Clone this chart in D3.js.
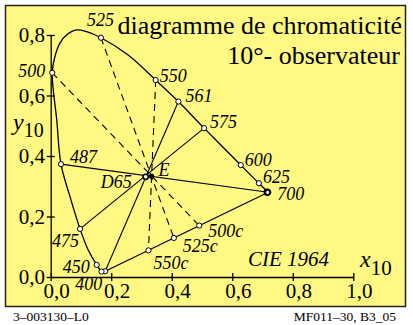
<!DOCTYPE html>
<html>
<head>
<meta charset="utf-8">
<script src="https://cdn.jsdelivr.net/npm/d3@7"></script>
<style>
  body { margin: 0; background: #fff; }
  svg text { font-family: "Liberation Serif", "Times New Roman", serif; fill: #000; }
</style>
</head>
<body>
<div id="chart"></div>
<script>
// spectral locus of the CIE 1964 observer (x10, y10), 400 nm -> 700 nm
const locus = [
  [0.180, 0.019], [0.168, 0.018], [0.152, 0.040], [0.124, 0.089], [0.097, 0.159],
  [0.064, 0.265], [0.034, 0.373], [0.020, 0.519], [0.005, 0.675], [0.014, 0.729],
  [0.031, 0.774], [0.053, 0.801], [0.086, 0.817], [0.119, 0.811], [0.166, 0.791],
  [0.256, 0.734], [0.347, 0.651], [0.422, 0.580], [0.507, 0.492], [0.628, 0.370],
  [0.688, 0.310], [0.719, 0.280]
];

// marked wavelengths
const waveNames = ["400", "", "450", "475", "487", "500", "525", "550", "561", "575", "600", "625", "700"];
const waveX = [0.180, 0.168, 0.152, 0.097, 0.034, 0.005, 0.166, 0.347, 0.422, 0.507, 0.628, 0.688, 0.719];
const waveY = [0.019, 0.018, 0.040, 0.159, 0.373, 0.675, 0.791, 0.651, 0.580, 0.492, 0.370, 0.310, 0.280];

// compensative wavelengths on the purple line
const purpleNames = ["550c", "525c", "500c"];
const purpleX = [0.323, 0.407, 0.491];
const purpleY = [0.088, 0.129, 0.170];

const d65 = [0.3138, 0.3310];
const whiteE = [0.3333, 0.3333];

// solid lines through D65, dashed lines through E
const solidPairs = [["487", "700"], ["475", "575"], ["400", "561"]];
const dashedPairs = [["500", "500c"], ["525", "525c"], ["550", "550c"]];

const xTicks = [0, 0.2, 0.4, 0.6, 0.8, 1.0];
const xTickLabels = ["0,0", "0,2", "0,4", "0,6", "0,8", "1,0"];
const yTicks = [0, 0.2, 0.4, 0.6, 0.8];
const yTickLabels = ["0,0", "0,2", "0,4", "0,6", "0,8"];

// label offsets in pixels from the marked point
const labelOffset = {
  "400": [-30, 19], "450": [-34, 8], "475": [-28, 18], "487": [9, -1], "500": [-34, 4],
  "525": [-14, -12], "550": [4, 2], "561": [7, 0], "575": [6, 0], "600": [4, 1],
  "625": [4, 0], "700": [9, 8], "550c": [5, 19], "525c": [9, 14], "500c": [9, 11]
};

const W = 413, H = 325;
const svg = d3.select("#chart").append("svg")
  .attr("width", W)
  .attr("height", H);

svg.append("rect")
  .attr("x", 5.5).attr("y", 5.5)
  .attr("width", 400).attr("height", 301)
  .attr("fill", "#fff882")
  .attr("stroke", "#222")
  .attr("stroke-width", 1.5);

const x = d3.scaleLinear().domain([0, 1]).range([50.7, 353.3]);
const y = d3.scaleLinear().domain([0, 0.8]).range([277, 35]);

// axes
const xAxis = svg.append("g")
  .attr("transform", `translate(0,${y(0)})`)
  .call(d3.axisBottom(x).tickValues(xTicks).tickSizeOuter(0).tickFormat(""));
const yAxis = svg.append("g")
  .attr("transform", `translate(${x(0)},0)`)
  .call(d3.axisLeft(y).tickValues(yTicks).tickSizeOuter(0).tickFormat(""));
xAxis.selectAll(".tick line").attr("y1", -4).attr("y2", 4).attr("stroke-width", 1.3);
yAxis.selectAll(".tick line").attr("x1", -4).attr("x2", 4).attr("stroke-width", 1.3);
svg.selectAll(".domain").attr("stroke-width", 1.3);

svg.selectAll(".xlab")
  .data(xTicks)
  .enter().append("text")
  .attr("x", d => x(d) + 6)
  .attr("y", 298)
  .attr("text-anchor", "middle")
  .style("font-size", "21px")
  .text((d, i) => xTickLabels[i]);

svg.selectAll(".ylab")
  .data(yTicks)
  .enter().append("text")
  .attr("x", 45)
  .attr("y", d => y(d) + 7)
  .attr("text-anchor", "end")
  .style("font-size", "21px")
  .text((d, i) => yTickLabels[i]);

// axis titles
const yt = svg.append("text").attr("x", 13).attr("y", 130);
yt.append("tspan").style("font-style", "italic").style("font-size", "24px").text("y");
yt.append("tspan").attr("dy", 7).style("font-size", "20px").text("10");
const xt = svg.append("text").attr("x", 360).attr("y", 267);
xt.append("tspan").style("font-style", "italic").style("font-size", "24px").text("x");
xt.append("tspan").attr("dy", 8).style("font-size", "21px").text("10");

svg.append("text")
  .attr("x", 402).attr("y", 34)
  .attr("text-anchor", "end")
  .style("font-size", "26px")
  .text("diagramme de chromaticité");
svg.append("text")
  .attr("x", 400).attr("y", 64)
  .attr("text-anchor", "end")
  .style("font-size", "26px")
  .text("10°- observateur");
svg.append("text")
  .attr("x", 248).attr("y", 266)
  .style("font-size", "21px")
  .style("font-style", "italic")
  .text("CIE 1964");

// footer
svg.append("text").attr("x", 13).attr("y", 321).style("font-size", "13.5px").text("3–003130–L0");
svg.append("text").attr("x", 396).attr("y", 321).attr("text-anchor", "end")
  .style("font-size", "13.5px").text("MF011–30, B3_05");

// point lookup
const pts = {};
waveNames.forEach((n, i) => { if (n) pts[n] = [waveX[i], waveY[i]]; });
purpleNames.forEach((n, i) => { pts[n] = [purpleX[i], purpleY[i]]; });

const line = d3.line().x(d => x(d[0])).y(d => y(d[1]));

// dashed lines through E
svg.selectAll(".dash")
  .data(dashedPairs)
  .enter().append("path")
  .attr("d", d => line([pts[d[0]], pts[d[1]]]))
  .attr("fill", "none")
  .attr("stroke", "#000")
  .attr("stroke-width", 1.1)
  .attr("stroke-dasharray", "7,5");

// solid lines through D65
svg.selectAll(".solid")
  .data(solidPairs)
  .enter().append("path")
  .attr("d", d => line([pts[d[0]], pts[d[1]]]))
  .attr("fill", "none")
  .attr("stroke", "#000")
  .attr("stroke-width", 1.1);

// spectral locus and purple line
svg.append("path")
  .attr("d", line.curve(d3.curveCatmullRom.alpha(0.5))(locus))
  .attr("fill", "none")
  .attr("stroke", "#000")
  .attr("stroke-width", 1.3);
line.curve(d3.curveLinear);
svg.append("path")
  .attr("d", line([pts["700"], pts["400"]]))
  .attr("fill", "none")
  .attr("stroke", "#000")
  .attr("stroke-width", 1.2);

// markers
const markers = waveX.map((v, i) => [v, waveY[i]]).concat(purpleX.map((v, i) => [v, purpleY[i]]));
svg.selectAll(".mk")
  .data(markers)
  .enter().append("circle")
  .attr("cx", d => x(d[0]))
  .attr("cy", d => y(d[1]))
  .attr("r", 2.6)
  .attr("fill", "#fff")
  .attr("stroke", "#000")
  .attr("stroke-width", 1);
svg.append("circle")
  .attr("cx", x(pts["700"][0]) - 1).attr("cy", y(pts["700"][1]))
  .attr("r", 2.8).attr("fill", "none").attr("stroke", "#000").attr("stroke-width", 1.8);

svg.append("circle")
  .attr("cx", x(d65[0])).attr("cy", y(d65[1]))
  .attr("r", 2.6).attr("fill", "#fff").attr("stroke", "#000").attr("stroke-width", 1.6);
svg.append("circle")
  .attr("cx", x(whiteE[0])).attr("cy", y(whiteE[1]))
  .attr("r", 2.6).attr("fill", "#000");

// wavelength labels
svg.selectAll(".wl")
  .data(Object.keys(labelOffset))
  .enter().append("text")
  .attr("x", d => x(pts[d][0]) + labelOffset[d][0])
  .attr("y", d => y(pts[d][1]) + labelOffset[d][1])
  .style("font-size", "18px")
  .style("font-style", "italic")
  .text(d => d);

svg.append("text")
  .attr("x", x(d65[0]) - 14).attr("y", y(d65[1]) + 11)
  .attr("text-anchor", "end")
  .style("font-size", "18px").style("font-style", "italic")
  .text("D65");
svg.append("text")
  .attr("x", x(whiteE[0]) + 7).attr("y", y(whiteE[1]))
  .style("font-size", "18px").style("font-style", "italic")
  .text("E");
</script>
</body>
</html>
